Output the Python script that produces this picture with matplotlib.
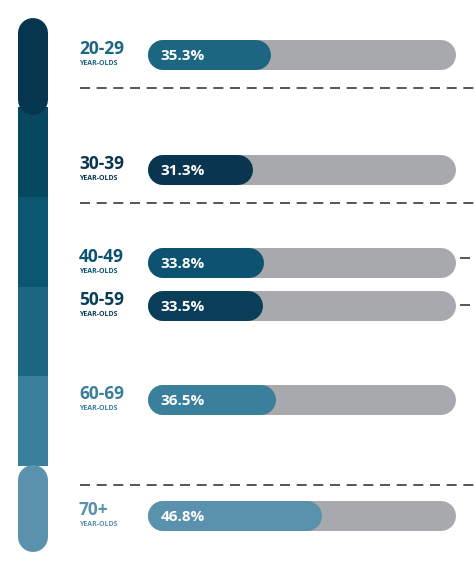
import matplotlib
matplotlib.use("Agg")
import matplotlib.pyplot as plt
from matplotlib.patches import Rectangle

groups = ["20-29", "30-39", "40-49", "50-59", "60-69", "70+"]
values = [35.3, 31.3, 33.8, 33.5, 36.5, 46.8]
sub = "YEAR-OLDS"
bar_colors = ["#1d6682", "#0a3550", "#0b5370", "#0a3d58", "#3a7f9c", "#5a92ad"]
seg_colors = ["#06354f", "#064860", "#0b5670", "#1d6682", "#3a7f9c", "#5a92ad"]
ys = [55, 170, 263, 306, 400, 516]
track_max = 77.0
base = 7.7

W, H = 474, 562
fig = plt.figure(figsize=(W/100, H/100), dpi=100)
ax = fig.add_axes([0, 0, 1, 1])
ax.set_xlim(0, W); ax.set_ylim(H, 0); ax.axis("off")
# data axes for bars: value -> pixel with 4.45 px per unit, base at x=148
ppu = 4.45
a = base - 148/ppu
bx = fig.add_axes([0, 0, 1, 1])
bx.set_xlim(a, a + W/ppu); bx.set_ylim(H, 0); bx.axis("off")
bx.patch.set_alpha(0)

# left segmented bar
segs = [18, 107, 197, 287, 376, 466, 552]
lw_pt = 30*72/100
ax.plot([33, 33], [33, 100], color=seg_colors[0], lw=lw_pt, solid_capstyle="round")
ax.plot([33, 33], [480, 537], color=seg_colors[5], lw=lw_pt, solid_capstyle="round")
for i in range(1, 5):
    ax.add_patch(Rectangle((18, segs[i]), 30, segs[i+1]-segs[i], color=seg_colors[i], lw=0))

# dashed lines
for y in [88, 203, 485]:
    ax.plot([80, 474], [y, y], color="#3a3a3a", lw=1.2, dashes=(6, 4))
for y in [258, 305]:
    ax.plot([460, 474], [y, y], color="#3a3a3a", lw=1.2, dashes=(6, 4))

r = 15/ppu
for g, v, y, c in zip(groups, values, ys, bar_colors):
    bx.plot([base + r, track_max - r], [y, y], color="#a7a9ac", lw=lw_pt, solid_capstyle="round")
    bx.plot([base + r, v - r], [y, y], color=c, lw=lw_pt, solid_capstyle="round")
    bx.text(base + 15/ppu - 0.5, y + 1, f"{v}%", color="white", fontsize=11, fontweight="bold",
            va="center", ha="left", family="Open Sans")
    ax.text(79, y - 6, g, color=c, fontsize=12.5, fontweight="bold", va="center", ha="left", family="Open Sans")
    ax.text(79, y + 8.5, sub, color=c, fontsize=5, fontweight="bold", va="center", ha="left", family="Open Sans")

fig.savefig("out.png", dpi=100)
